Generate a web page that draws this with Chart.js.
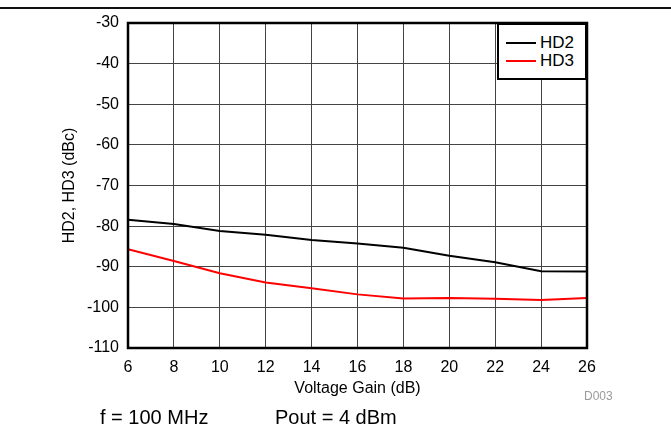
<!DOCTYPE html>
<html>
<head>
<meta charset="utf-8">
<script src="https://cdn.jsdelivr.net/npm/chart.js@4/dist/chart.umd.min.js"></script>
<style>
    body { margin: 0; background: #fff; font-family: 'Liberation Sans', Arial, sans-serif; }
    #wrap { position: relative; width: 671px; height: 428px; overflow: hidden; }
    #chart { position: absolute; left: 0; top: 0; }
    .topline { position: absolute; left: 0; top: 7px; width: 671px; height: 1.5px; background: #111; }
    .note { position: absolute; line-height: 1; white-space: pre; color: #000; }
    .legend { position: absolute; left: 497px; top: 23px; width: 90px; height: 57px; box-sizing: border-box;
              border: 2px solid #000; background: #fff; }
    .legend .row { position: absolute; left: 0; height: 18px; width: 86px; }
    .legend .swatch { position: absolute; left: 7px; width: 30px; height: 2px; top: 8px; }
    .legend .label { position: absolute; left: 41px; top: 0; font-size: 17px; line-height: 18px; }
</style>
</head>
<body>
<div id="wrap">
    <div class="topline"></div>
    <canvas id="chart" width="671" height="428"></canvas>
    <div class="legend" id="legend"></div>
    <div class="note" style="left:100px; top:407px; font-size:20px;">f = 100 MHz</div>
    <div class="note" style="left:275px; top:407px; font-size:20px;">Pout = 4 dBm</div>
    <div class="note" style="left:584px; top:390px; font-size:12px; color:#9a9a9a;">D003</div>
</div>
<script>
const gain = [6, 8, 10, 12, 14, 16, 18, 20, 22, 24, 26];
const hd2 = [-78.4, -79.5, -81.2, -82.1, -83.4, -84.3, -85.3, -87.3, -88.9, -91.1, -91.2];
const hd3 = [-85.7, -88.6, -91.6, -93.9, -95.3, -96.8, -97.8, -97.7, -97.9, -98.2, -97.7];

const xTicks = [6, 8, 10, 12, 14, 16, 18, 20, 22, 24, 26];
const yTicks = [-110, -100, -90, -80, -70, -60, -50, -40, -30];

const seriesNames = ['HD2', 'HD3'];
const seriesColors = ['#000000', '#ff0000'];

const fontFamily = "'Liberation Sans', Arial, sans-serif";

// legend as plain html, placed inside the plot's top right corner
const legendEl = document.getElementById('legend');
seriesNames.forEach((name, i) => {
    const row = document.createElement('div');
    row.className = 'row';
    row.style.top = (9 + i * 18) + 'px';
    row.innerHTML = `<div class="swatch" style="background:${seriesColors[i]}"></div><div class="label">${name}</div>`;
    legendEl.appendChild(row);
});

// thick frame round the plot area
const frame = {
    id: 'frame',
    afterDatasetsDraw(chart) {
        const a = chart.chartArea;
        const ctx = chart.ctx;
        ctx.save();
        ctx.strokeStyle = '#000';
        ctx.lineWidth = 2.5;
        ctx.strokeRect(a.left, a.top, a.right - a.left, a.bottom - a.top);
        ctx.restore();
    }
};

const ctx = document.getElementById('chart').getContext('2d');
const chart = new Chart(ctx, {
    type: 'line',
    data: {
        datasets: [
            {
                label: seriesNames[0],
                data: gain.map((g, i) => ({ x: g, y: hd2[i] })),
                borderColor: seriesColors[0],
                borderWidth: 2,
                pointRadius: 0,
                tension: 0
            },
            {
                label: seriesNames[1],
                data: gain.map((g, i) => ({ x: g, y: hd3[i] })),
                borderColor: seriesColors[1],
                borderWidth: 2,
                pointRadius: 0,
                tension: 0
            }
        ]
    },
    options: {
        responsive: false,
        animation: false,
        layout: {
            padding: { left: 0, top: 23, right: 84, bottom: 0 }
        },
        plugins: {
            legend: { display: false },
            tooltip: { enabled: false }
        },
        scales: {
            x: {
                type: 'linear',
                min: 6,
                max: 26,
                afterBuildTicks: scale => { scale.ticks = xTicks.map(v => ({ value: v })); },
                afterFit: scale => { scale.height = 80; },
                ticks: {
                    color: '#000',
                    padding: 10,
                    maxRotation: 0,
                    autoSkip: false,
                    font: { family: fontFamily, size: 16 }
                },
                grid: { color: '#444', lineWidth: 1, drawTicks: false },
                border: { display: false },
                title: {
                    display: true,
                    text: 'Voltage Gain (dB)',
                    color: '#000',
                    font: { family: fontFamily, size: 16 },
                    padding: { top: 0, bottom: 30 }
                }
            },
            y: {
                min: -110,
                max: -30,
                afterBuildTicks: scale => { scale.ticks = yTicks.map(v => ({ value: v })); },
                afterFit: scale => { scale.width = 128; },
                ticks: {
                    color: '#000',
                    padding: 9,
                    autoSkip: false,
                    font: { family: fontFamily, size: 16 }
                },
                grid: { color: '#444', lineWidth: 1, drawTicks: false },
                border: { display: false },
                title: {
                    display: true,
                    text: 'HD2, HD3 (dBc)',
                    color: '#000',
                    font: { family: fontFamily, size: 16 },
                    padding: { top: 60, bottom: 0 }
                }
            }
        }
    },
    plugins: [frame]
});
</script>
</body>
</html>
